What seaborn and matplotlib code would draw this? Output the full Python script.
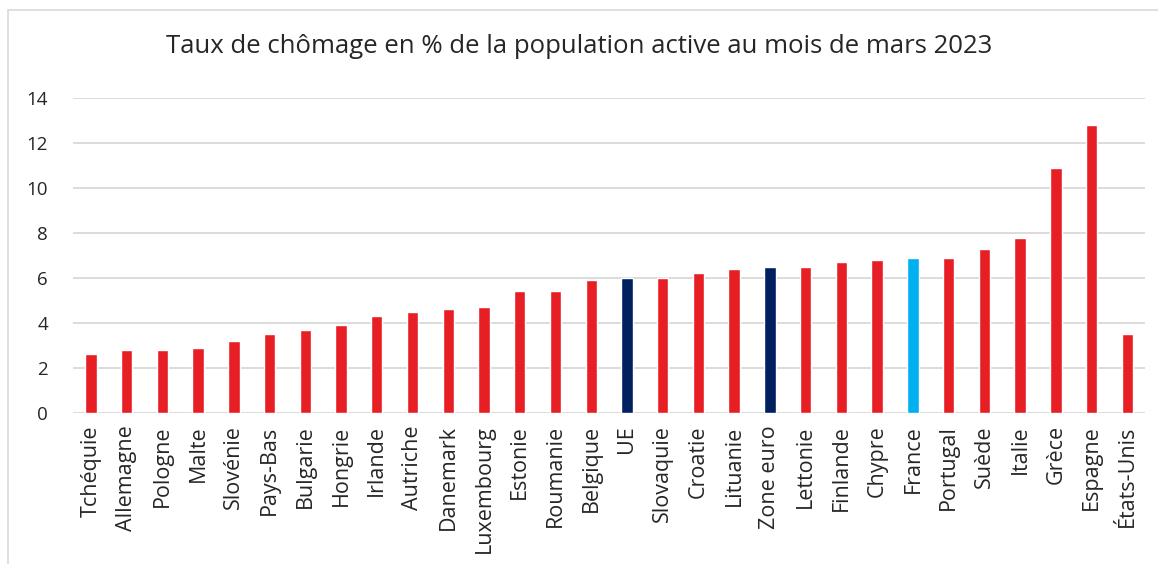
import matplotlib.pyplot as plt
import seaborn as sns
import pandas as pd
from matplotlib.patches import Rectangle

countries = ['Tchéquie', 'Allemagne', 'Pologne', 'Malte', 'Slovénie', 'Pays-Bas',
             'Bulgarie', 'Hongrie', 'Irlande', 'Autriche', 'Danemark', 'Luxembourg',
             'Estonie', 'Roumanie', 'Belgique', 'UE', 'Slovaquie', 'Croatie',
             'Lituanie', 'Zone euro', 'Lettonie', 'Finlande', 'Chypre', 'France',
             'Portugal', 'Suède', 'Italie', 'Grèce', 'Espagne', 'États-Unis']
rates = [2.6, 2.8, 2.8, 2.9, 3.2, 3.5, 3.7, 3.9, 4.3, 4.5, 4.6, 4.7, 5.4, 5.4,
         5.9, 6.0, 6.0, 6.2, 6.4, 6.5, 6.5, 6.7, 6.8, 6.9, 6.9, 7.3, 7.8, 10.9,
         12.8, 3.5]
groups = ['pays'] * 15 + ['agrégat'] + ['pays'] * 3 + ['agrégat'] + ['pays'] * 3 \
         + ['France'] + ['pays'] * 6

palette = {'pays': '#E81E25', 'agrégat': '#002060', 'France': '#00B0F0'}

df = pd.DataFrame({'pays': countries, 'taux': rates, 'groupe': groups})

sns.set_style('white')
plt.rcParams['font.family'] = ['Open Sans', 'DejaVu Sans']

fig = plt.figure(figsize=(11.58, 5.64), dpi=100)
ax = fig.add_axes([0.063, 0.268, 0.926, 0.558])

sns.barplot(data=df, x='pays', y='taux', hue='groupe', palette=palette,
            dodge=False, width=0.32, saturation=1, legend=False, ax=ax)

ax.set_ylim(0, 14)
ax.set_yticks(range(0, 15, 2))
ax.set_xlim(-0.5, len(countries) - 0.5)
ax.yaxis.grid(True, color='#D9D9D9', linewidth=1.3)
ax.set_axisbelow(True)
for s in ax.spines.values():
    s.set_visible(False)
ax.tick_params(axis='x', labelrotation=90, labelsize=15.5, length=0, pad=9)
ax.tick_params(axis='y', labelsize=13.5, length=0, pad=18)
ax.set_xlabel('')
ax.set_ylabel('')

fig.text(0.5, 0.917, 'Taux de chômage en % de la population active au mois de mars 2023',
         ha='center', va='center', fontsize=18.5)

fig.patches.append(Rectangle((0.007, -0.01), 1.0, 0.993, transform=fig.transFigure,
                             fill=False, edgecolor='#D9D9D9', linewidth=1.2))

fig.savefig('out.png', dpi=100)
